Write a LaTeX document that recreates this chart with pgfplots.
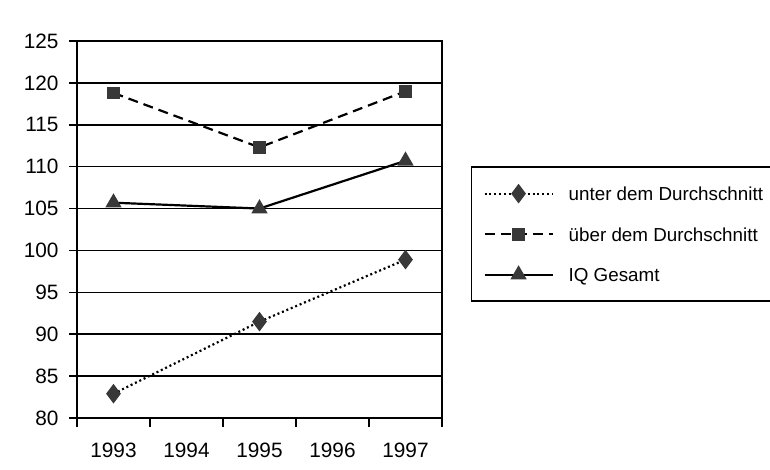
\documentclass[border=0pt]{standalone}
\usepackage{fontspec}
\setmainfont{Liberation Sans}
\usepackage{pgfplots}
\pgfplotsset{compat=1.18}
\definecolor{mk}{HTML}{383838}
\begin{document}
\fontsize{9.2}{11}\selectfont
\begin{tikzpicture}
\path[use as bounding box] (-38.5pt,-26pt) rectangle (346.5pt,209pt);
\begin{axis}[
  at={(0pt,0pt)}, anchor=south west,
  scale only axis, width=182.5pt, height=188.5pt,
  xmin=1992.5, xmax=1997.5, ymin=80, ymax=125,
  xtick={1993,1994,1995,1996,1997},
  xticklabels={1993,1994,1995,1996,1997},
  minor xtick={1992.5,1993.5,1994.5,1995.5,1996.5,1997.5},
  ytick={80,85,...,125},
  ymajorgrids,
  major grid style={black, line width=0.8pt},
  axis line style={black, line width=0.8pt},
  tick pos=left, tick align=outside,
  major tick length=4pt, minor tick length=4.5pt,
  tick style={black, line width=0.8pt},
  every major x tick/.append style={draw=none},
  /pgf/number format/assume math mode=true,
  tick label style={font=\fontsize{10.4}{12}\selectfont},
  yticklabel style={xshift=-2pt},
  xticklabel style={yshift=-5pt},
  clip=false,
  legend style={at={(1.0786,0.6684)}, anchor=north west, draw=black, line width=0.8pt,
    inner xsep=6pt, inner ysep=8pt, row sep=9.5pt, column sep=5.5pt,
    font=\fontsize{9.4}{11}\selectfont, cells={anchor=west},
    nodes={text depth=0pt}},
  legend cell align=left,
  legend image code/.code={\draw[mark repeat=2,mark phase=2,#1] plot coordinates {(0pt,0pt) (17pt,0pt) (34pt,0pt)};},
]
\addplot[black, line width=1.1pt, dash pattern=on 1pt off 1.4pt,
  mark=diamond*, mark size=4pt, mark options={solid, fill=mk, draw=mk}]
  coordinates {(1993,82.9) (1995,91.5) (1997,98.9)};
\addlegendentry{unter dem Durchschnitt\hspace*{20pt}}
\addplot[black, line width=1.1pt, dash pattern=on 5pt off 3pt,
  mark=square*, mark size=2.6pt, mark options={solid, fill=mk, draw=mk}]
  coordinates {(1993,118.8) (1995,112.3) (1997,119.0)};
\addlegendentry{über dem Durchschnitt}
\addplot[black, line width=1.1pt,
  mark=triangle*, mark size=3.6pt, mark options={solid, fill=mk, draw=mk}]
  coordinates {(1993,105.7) (1995,105.0) (1997,110.7)};
\addlegendentry{IQ Gesamt}
\end{axis}
\end{tikzpicture}
\end{document}
